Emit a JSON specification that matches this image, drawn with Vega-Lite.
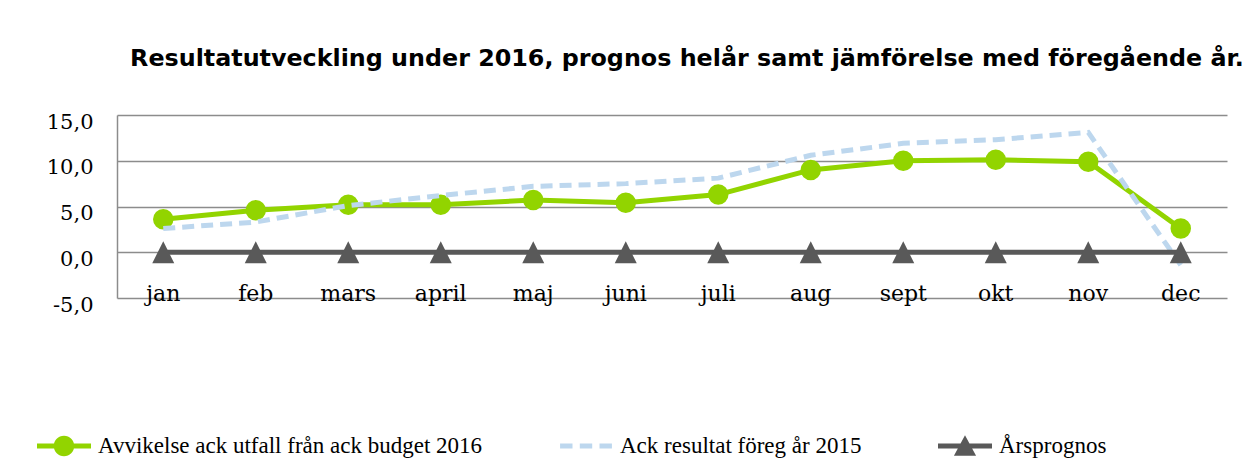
{
  "$schema": "https://vega.github.io/schema/vega-lite/v6.json",
  "autosize": "none",
  "width": 1110,
  "height": 183,
  "padding": {"left": 117, "top": 115, "right": 23, "bottom": 176},
  "background": "white",
  "title": {
    "text": "Resultatutveckling under 2016, prognos helår samt jämförelse med föregående år.",
    "font": "DejaVu Sans",
    "fontSize": 23.8,
    "fontWeight": "bold",
    "color": "#000000",
    "anchor": "middle",
    "dx": 15,
    "baseline": "alphabetic",
    "offset": 21
  },
  "config": {
    "view": {"stroke": null},
    "axis": {"labelColor": "#000000"}
  },
  "data": {
    "values": [
      {"month": "jan", "series": "Avvikelse ack utfall från ack budget 2016", "value": 3.6},
      {"month": "feb", "series": "Avvikelse ack utfall från ack budget 2016", "value": 4.6},
      {"month": "mars", "series": "Avvikelse ack utfall från ack budget 2016", "value": 5.2},
      {"month": "april", "series": "Avvikelse ack utfall från ack budget 2016", "value": 5.2},
      {"month": "maj", "series": "Avvikelse ack utfall från ack budget 2016", "value": 5.7},
      {"month": "juni", "series": "Avvikelse ack utfall från ack budget 2016", "value": 5.4},
      {"month": "juli", "series": "Avvikelse ack utfall från ack budget 2016", "value": 6.3},
      {"month": "aug", "series": "Avvikelse ack utfall från ack budget 2016", "value": 9.0},
      {"month": "sept", "series": "Avvikelse ack utfall från ack budget 2016", "value": 10.0},
      {"month": "okt", "series": "Avvikelse ack utfall från ack budget 2016", "value": 10.1},
      {"month": "nov", "series": "Avvikelse ack utfall från ack budget 2016", "value": 9.9},
      {"month": "dec", "series": "Avvikelse ack utfall från ack budget 2016", "value": 2.6},
      {"month": "jan", "series": "Ack resultat föreg år 2015", "value": 2.6},
      {"month": "feb", "series": "Ack resultat föreg år 2015", "value": 3.3},
      {"month": "mars", "series": "Ack resultat föreg år 2015", "value": 5.1},
      {"month": "april", "series": "Ack resultat föreg år 2015", "value": 6.2},
      {"month": "maj", "series": "Ack resultat föreg år 2015", "value": 7.2},
      {"month": "juni", "series": "Ack resultat föreg år 2015", "value": 7.5},
      {"month": "juli", "series": "Ack resultat föreg år 2015", "value": 8.1},
      {"month": "aug", "series": "Ack resultat föreg år 2015", "value": 10.6},
      {"month": "sept", "series": "Ack resultat föreg år 2015", "value": 11.9},
      {"month": "okt", "series": "Ack resultat föreg år 2015", "value": 12.3},
      {"month": "nov", "series": "Ack resultat föreg år 2015", "value": 13.1},
      {"month": "dec", "series": "Ack resultat föreg år 2015", "value": -1.4},
      {"month": "jan", "series": "Årsprognos", "value": 0},
      {"month": "feb", "series": "Årsprognos", "value": 0},
      {"month": "mars", "series": "Årsprognos", "value": 0},
      {"month": "april", "series": "Årsprognos", "value": 0},
      {"month": "maj", "series": "Årsprognos", "value": 0},
      {"month": "juni", "series": "Årsprognos", "value": 0},
      {"month": "juli", "series": "Årsprognos", "value": 0},
      {"month": "aug", "series": "Årsprognos", "value": 0},
      {"month": "sept", "series": "Årsprognos", "value": 0},
      {"month": "okt", "series": "Årsprognos", "value": 0},
      {"month": "nov", "series": "Årsprognos", "value": 0},
      {"month": "dec", "series": "Årsprognos", "value": 0}
    ]
  },
  "encoding": {
    "x": {
      "field": "month",
      "type": "ordinal",
      "sort": ["jan", "feb", "mars", "april", "maj", "juni", "juli", "aug", "sept", "okt", "nov", "dec"],
      "scale": {"type": "band", "paddingInner": 0, "paddingOuter": 0},
      "axis": {
        "title": null,
        "domain": false,
        "ticks": false,
        "grid": false,
        "labelAngle": 0,
        "labelFont": "DejaVu Serif",
        "labelFontSize": 22,
        "labelBaseline": "alphabetic",
        "labelPadding": 2
      }
    },
    "y": {
      "field": "value",
      "type": "quantitative",
      "scale": {"domain": [-5, 15], "nice": false, "zero": false},
      "axis": {
        "title": null,
        "values": [-5, 0, 5, 10, 15],
        "labelExpr": "replace(replace(format(datum.value, '.1f'), '.', ','), '\u2212', '-')",
        "ticks": false,
        "domain": true,
        "domainColor": "#8c8c8c",
        "domainWidth": 1.5,
        "grid": true,
        "gridColor": "#8c8c8c",
        "gridWidth": 1.5,
        "labelFont": "DejaVu Serif",
        "labelFontSize": 21,
        "labelPadding": 24,
        "labelBaseline": "alphabetic",
        "labelOffset": 13
      }
    }
  },
  "layer": [
    {
      "transform": [{"filter": "datum.series === 'Avvikelse ack utfall från ack budget 2016'"}],
      "mark": {"type": "line", "color": "#92D400", "strokeWidth": 5}
    },
    {
      "transform": [{"filter": "datum.series === 'Avvikelse ack utfall från ack budget 2016'"}],
      "mark": {"type": "point", "shape": "circle", "filled": true, "color": "#92D400", "size": 420, "opacity": 1}
    },
    {
      "transform": [{"filter": "datum.series === 'Ack resultat föreg år 2015'"}],
      "mark": {"type": "line", "color": "#BDD7EE", "strokeWidth": 5, "strokeDash": [12, 7]}
    },
    {
      "transform": [{"filter": "datum.series === 'Årsprognos'"}],
      "mark": {"type": "line", "color": "#595959", "strokeWidth": 5}
    },
    {
      "transform": [{"filter": "datum.series === 'Årsprognos'"}],
      "mark": {"type": "point", "shape": "M0,-1L1,1H-1Z", "filled": true, "color": "#595959", "size": 484, "opacity": 1}
    },
    {
      "mark": {"type": "point", "filled": true, "opacity": 0},
      "encoding": {
        "color": {
          "field": "series",
          "type": "nominal",
          "scale": {
            "domain": ["Avvikelse ack utfall från ack budget 2016", "Ack resultat föreg år 2015", "Årsprognos"],
            "range": ["#92D400", "#BDD7EE", "#595959"]
          },
          "legend": {
            "title": null,
            "orient": "none",
            "legendX": -80,
            "legendY": 304,
            "direction": "horizontal",
            "padding": 0,
            "symbolSize": 2916,
            "symbolStrokeWidth": 0,
            "symbolOpacity": 1,
            "labelFont": "Liberation Serif",
            "labelFontSize": 23,
            "labelColor": "#000000",
            "labelOffset": 7,
            "labelLimit": 600,
            "columnPadding": 76
          }
        },
        "shape": {
          "field": "series",
          "type": "nominal",
          "scale": {
            "domain": ["Avvikelse ack utfall från ack budget 2016", "Ack resultat föreg år 2015", "Årsprognos"],
            "range": [
              "M-1,-0.09H1V0.09H-1Z M0,-0.38A0.38,0.38 0 1,1 0,0.38A0.38,0.38 0 1,1 0,-0.38Z",
              "M-0.96,-0.09H-0.5V0.09H-0.96Z M-0.23,-0.09H0.23V0.09H-0.23Z M0.5,-0.09H0.96V0.09H0.5Z",
              "M-1,-0.09H1V0.09H-1Z M0,-0.4L0.41,0.36H-0.41Z"
            ]
          },
          "legend": {
            "title": null,
            "orient": "none",
            "legendX": -80,
            "legendY": 304,
            "direction": "horizontal",
            "padding": 0,
            "symbolSize": 2916,
            "symbolStrokeWidth": 0,
            "symbolOpacity": 1,
            "labelFont": "Liberation Serif",
            "labelFontSize": 23,
            "labelColor": "#000000",
            "labelOffset": 7,
            "labelLimit": 600,
            "columnPadding": 76
          }
        }
      }
    }
  ]
}
